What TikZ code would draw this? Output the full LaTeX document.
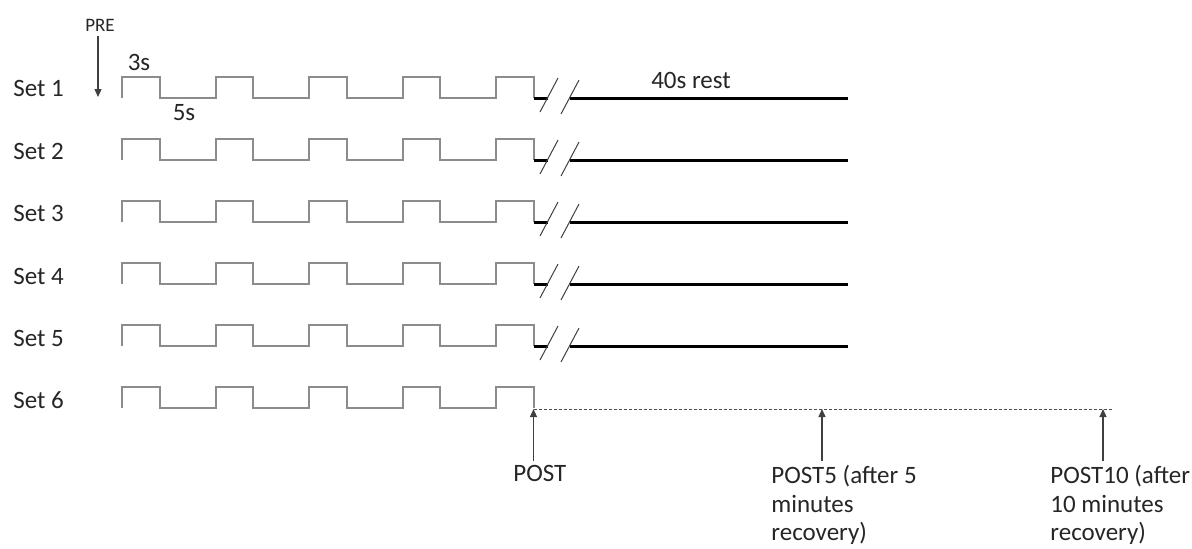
\documentclass[tikz,border=0pt]{standalone}
\usepackage{fontspec}
\setmainfont{Carlito}
\usetikzlibrary{arrows.meta}
\definecolor{wavegray}{HTML}{8C8C8C}
\definecolor{textgray}{HTML}{262626}

\begin{document}
\begin{tikzpicture}[x=0.5pt, y=-0.5pt, font=\fontsize{12.5}{14.3}\selectfont,
	lbl/.style={text=textgray, inner sep=2pt},
	wave/.style={wavegray, line width=1pt},
	rest/.style={black, line width=1.5pt},
	brk/.style={black!75, line width=0.5pt},
	dotline/.style={black!70, line width=0.5pt, dash pattern=on 1.5pt off 1pt},
	marker/.style={black!75, line width=0.6pt, -{Triangle[length=4pt,width=3.5pt]}},
	obs/.style={lbl, align=left, anchor=north west}]
	\useasboundingbox (0,0) rectangle (1192,548);
	\node[lbl, anchor=west] (S1) at (9,88) {Set 1};
	\node[lbl, anchor=west] (S2) at (9,151) {Set 2};
	\node[lbl, anchor=west] (S3) at (9,213) {Set 3};
	\node[lbl, anchor=west] (S4) at (9,276) {Set 4};
	\node[lbl, anchor=west] (S5) at (9,338) {Set 5};
	\node[lbl, anchor=west] (S6) at (9,400) {Set 6};
	\node[lbl, font=\fontsize{9.5}{11}\selectfont] (pre) at (100,25) {PRE};
	\node[lbl] (T3) at (139,62) {3s};
	\node[lbl] (T5) at (184,113) {5s};
	\node[lbl] (R) at (691,80) {40s rest};
	\node[obs] (P0) at (509,461) {POST};
	\node[obs] (P5) at (767,461) {POST5 (after 5\\minutes\\recovery)};
	\node[obs] (P10) at (1046,461) {POST10 (after\\10 minutes\\recovery)};
	\coordinate (preTip) at (98,97);
	\coordinate (c0) at (533.5,409);
	\coordinate (c5) at (822,409);
	\coordinate (c10) at (1103,409);
	% pulses, 3s on / 5s off
	\draw[wave] (122,98) |- (159.5,77) |- (215.5,98) |- (253,77) |- (309,98) |- (346.5,77) |- (402.5,98) |- (440,77) |- (496,98) |- (533.5,77) -- (533.5,98);
	\draw[wave] (122,160) |- (159.5,139) |- (215.5,160) |- (253,139) |- (309,160) |- (346.5,139) |- (402.5,160) |- (440,139) |- (496,160) |- (533.5,139) -- (533.5,160);
	\draw[wave] (122,222) |- (159.5,201) |- (215.5,222) |- (253,201) |- (309,222) |- (346.5,201) |- (402.5,222) |- (440,201) |- (496,222) |- (533.5,201) -- (533.5,222);
	\draw[wave] (122,284) |- (159.5,263) |- (215.5,284) |- (253,263) |- (309,284) |- (346.5,263) |- (402.5,284) |- (440,263) |- (496,284) |- (533.5,263) -- (533.5,284);
	\draw[wave] (122,346) |- (159.5,325) |- (215.5,346) |- (253,325) |- (309,346) |- (346.5,325) |- (402.5,346) |- (440,325) |- (496,346) |- (533.5,325) -- (533.5,346);
	\draw[wave] (122,408) |- (159.5,387) |- (215.5,408) |- (253,387) |- (309,408) |- (346.5,387) |- (402.5,408) |- (440,387) |- (496,408) |- (533.5,387) -- (533.5,408);
	% 40s rest
	\draw[rest] (533.5,98) -- (547.5,98) (569.5,98) -- (848,98);
	\draw[rest] (533.5,160) -- (547.5,160) (569.5,160) -- (848,160);
	\draw[rest] (533.5,222) -- (547.5,222) (569.5,222) -- (848,222);
	\draw[rest] (533.5,284) -- (547.5,284) (569.5,284) -- (848,284);
	\draw[rest] (533.5,346) -- (547.5,346) (569.5,346) -- (848,346);
	\draw[brk] (540,112) -- (558,78) (561,114) -- (579,80);
	\draw[brk] (540,174) -- (558,140) (561,176) -- (579,142);
	\draw[brk] (540,236) -- (558,202) (561,238) -- (579,204);
	\draw[brk] (540,298) -- (558,264) (561,300) -- (579,266);
	\draw[brk] (540,360) -- (558,326) (561,362) -- (579,328);
	\draw[dotline] (c0) -- (1113,409);
	\draw[marker] (pre.south -| preTip) -- (preTip);
	\draw[marker] (P0.north -| c0) -- (c0);
	\draw[marker] (P5.north -| c5) -- (c5);
	\draw[marker] (P10.north -| c10) -- (c10);
\end{tikzpicture}
\end{document}
